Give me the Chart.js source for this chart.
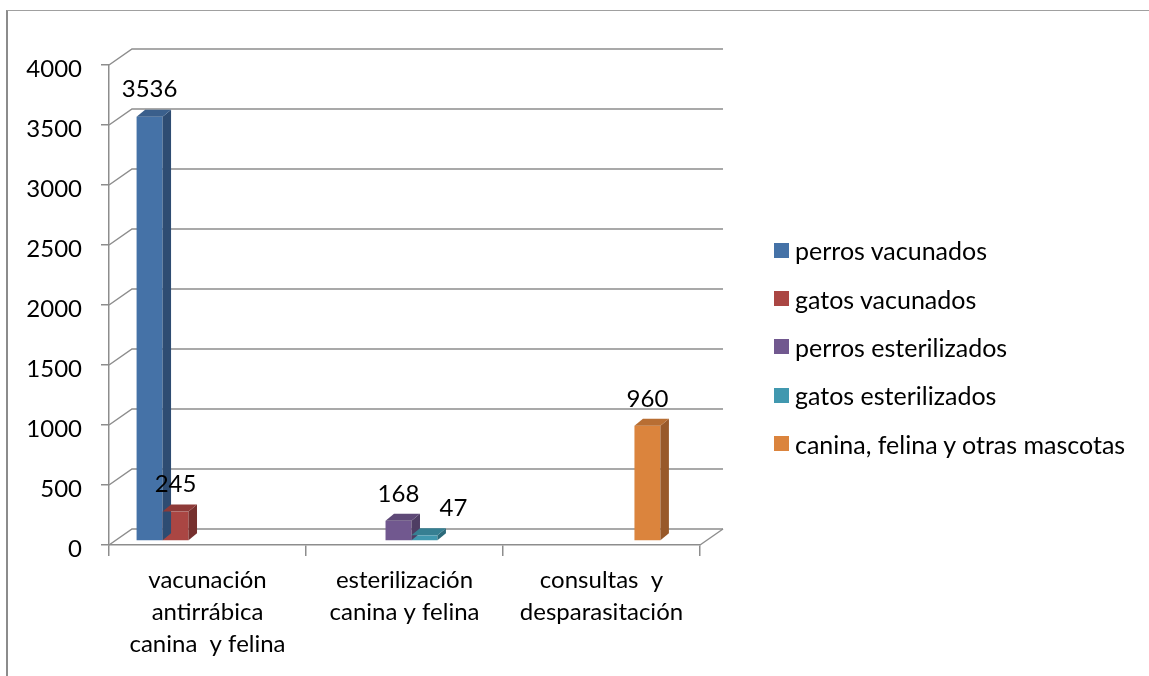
<!DOCTYPE html>
<html>
<head>
<meta charset="utf-8">
<script src="https://cdn.jsdelivr.net/npm/chart.js@4.4.1/dist/chart.umd.min.js"></script>
<style>
  html, body { margin: 0; padding: 0; background: #fff; overflow: hidden; }
  #frame { position: absolute; left: 6px; top: 10px; width: 1200px; height: 700px;
           border-left: 2px solid #8c8c8c; border-top: 1px solid #a0a0a0; }
  #chart { position: absolute; left: 0; top: 0; }
  #legend { position: absolute; left: 774px; top: 226px; font: 25px Lato, sans-serif; color: #000; }
  #legend .item { display: flex; align-items: center; height: 48.4px; white-space: pre; }
  #legend .box { width: 15px; height: 15px; margin-right: 6px; }
</style>
</head>
<body>
<div id="frame"></div>
<canvas id="chart" width="1149" height="676"></canvas>
<div id="legend"></div>
<script>
const categories = [
  ['vacunación', 'antirrábica', 'canina  y felina'],
  ['esterilización', 'canina y felina'],
  ['consultas  y', 'desparasitación']
];
const seriesNames = ['perros vacunados', 'gatos vacunados', 'perros esterilizados', 'gatos esterilizados', 'canina, felina y otras mascotas'];
const perrosVacunados = [3536, null, null];
const gatosVacunados = [245, null, null];
const perrosEsterilizados = [null, 168, null];
const gatosEsterilizados = [null, 47, null];
const otrasMascotas = [null, null, 960];
const yMax = 4000;
const yStep = 500;

const colors = ['#4572A7', '#AA4643', '#71588F', '#4198AF', '#DB843D'];
const sides = ['#2E4C72', '#76302E', '#4E3D63', '#2C6A7A', '#98592A'];
const tops = ['#3A5F8C', '#8E3A38', '#5E4977', '#367F92', '#B86E33'];
const gridColor = '#8d8d8d';
const font = { family: 'Lato, sans-serif', size: 24 };

// wall depth, bar depth, bar shift inside the floor
const WX = 23, WY = -16;
const BX = 8.5, BY = -7;
const SX = -6, SY = -4;
const labelNudge = [0, 0, 0, 29, 0];

const depth3d = {
  id: 'depth3d',
  beforeDatasetsDraw(chart) {
    const { ctx, chartArea: a, scales: { y } } = chart;
    ctx.save();
    ctx.strokeStyle = gridColor;
    ctx.lineWidth = 1.5;
    y.ticks.forEach(t => {
      const py = y.getPixelForValue(t.value);
      ctx.beginPath();
      ctx.moveTo(a.left, py);
      ctx.lineTo(a.left + WX, py + WY);
      ctx.lineTo(a.right + WX, py + WY);
      ctx.stroke();
    });
    ctx.beginPath();
    ctx.moveTo(a.right, a.bottom);
    ctx.lineTo(a.right + WX, a.bottom + WY);
    ctx.stroke();
    ctx.restore();
    ctx.save();
    ctx.translate(SX, SY);
  },
  afterDatasetsDraw(chart) {
    const { ctx } = chart;
    chart.data.datasets.forEach((ds, i) => {
      chart.getDatasetMeta(i).data.forEach((el, j) => {
        if (ds.data[j] == null) return;
        const { x, y, base, width } = el.getProps(['x', 'y', 'base', 'width'], true);
        const l = x - width / 2, r = x + width / 2;
        ctx.fillStyle = sides[i];
        ctx.beginPath();
        ctx.moveTo(r, y); ctx.lineTo(r + BX, y + BY); ctx.lineTo(r + BX, base + BY); ctx.lineTo(r, base);
        ctx.closePath(); ctx.fill();
        ctx.fillStyle = tops[i];
        ctx.beginPath();
        ctx.moveTo(l, y); ctx.lineTo(l + BX, y + BY); ctx.lineTo(r + BX, y + BY); ctx.lineTo(r, y);
        ctx.closePath(); ctx.fill();
      });
    });
    ctx.restore();
    ctx.save();
    ctx.fillStyle = '#000';
    ctx.font = `${font.size}px ${font.family}`;
    ctx.textAlign = 'center';
    ctx.textBaseline = 'middle';
    chart.data.datasets.forEach((ds, i) => {
      chart.getDatasetMeta(i).data.forEach((el, j) => {
        if (ds.data[j] == null) return;
        const { x, y } = el.getProps(['x', 'y'], true);
        ctx.fillText(String(ds.data[j]), x + SX + labelNudge[i], y + SY - 27);
      });
    });
    ctx.restore();
  }
};

const series = [perrosVacunados, gatosVacunados, perrosEsterilizados, gatosEsterilizados, otrasMascotas];

new Chart(document.getElementById('chart'), {
  type: 'bar',
  data: {
    labels: categories,
    datasets: series.map((d, i) => ({
      label: seriesNames[i], data: d, backgroundColor: colors[i], borderWidth: 0,
      categoryPercentage: 0.659, barPercentage: 1
    }))
  },
  options: {
    responsive: false,
    animation: false,
    devicePixelRatio: 1,
    layout: { padding: { top: 65, right: 449, bottom: 0, left: 0 } },
    plugins: { legend: { display: false }, tooltip: { enabled: false } },
    scales: {
      x: {
        grid: { display: true, drawOnChartArea: false, offset: true, tickLength: 11, color: gridColor, lineWidth: 1.5 },
        border: { display: true, color: gridColor, width: 1.5 },
        ticks: { font: { ...font, lineHeight: 1.33 }, color: '#000', padding: 8, maxRotation: 0, autoSkip: false },
        afterFit(s) { s.height = 131; }
      },
      y: {
        min: 0, max: yMax,
        grid: { drawOnChartArea: false, tickLength: 8, color: gridColor, lineWidth: 1.5 },
        border: { display: true, color: gridColor, width: 1.5 },
        ticks: { stepSize: yStep, font, color: '#000', padding: 19, labelOffset: 4, callback: v => String(v) },
        afterFit(s) { s.width = 109; }
      }
    }
  },
  plugins: [depth3d]
});

const legend = document.getElementById('legend');
seriesNames.forEach((n, i) => {
  const it = document.createElement('div');
  it.className = 'item';
  it.innerHTML = `<span class="box" style="background:${colors[i]}"></span><span></span>`;
  it.lastChild.textContent = n;
  legend.appendChild(it);
});
</script>
</body>
</html>
